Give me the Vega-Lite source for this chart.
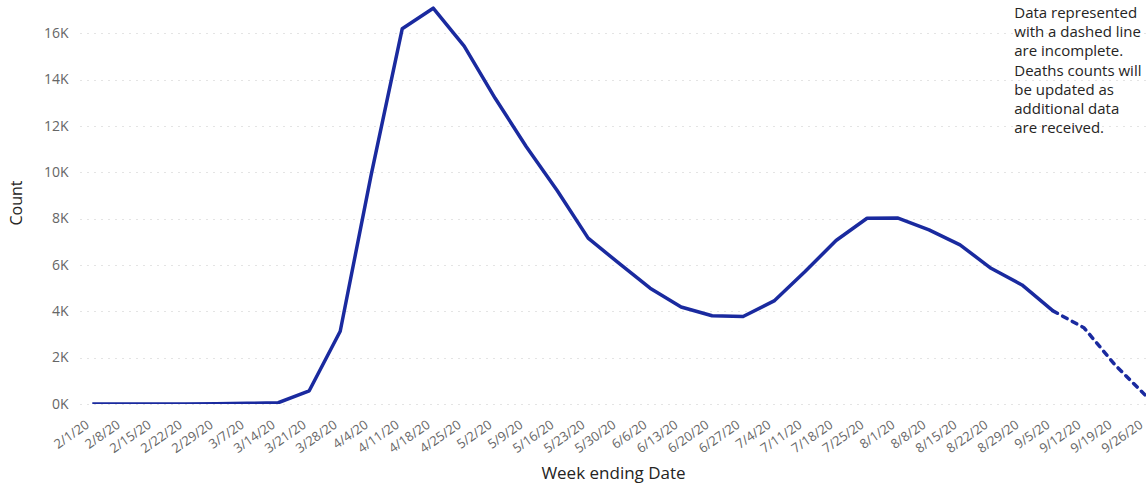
{
  "$schema": "https://vega.github.io/schema/vega-lite/v6.json",
  "width": 1066,
  "height": 403,
  "autosize": {"type": "none"},
  "padding": {"left": 80, "top": 1, "right": 0, "bottom": 81},
  "background": "white",
  "config": {
    "view": {"stroke": null},
    "font": "Open Sans",
    "axis": {"labelFont": "Open Sans", "titleFont": "Open Sans"}
  },
  "data": {
    "values": [
      {"date": "2020/02/01", "count": 0},
      {"date": "2020/02/08", "count": 0},
      {"date": "2020/02/15", "count": 2},
      {"date": "2020/02/22", "count": 5},
      {"date": "2020/02/29", "count": 8},
      {"date": "2020/03/07", "count": 30},
      {"date": "2020/03/14", "count": 55},
      {"date": "2020/03/21", "count": 570},
      {"date": "2020/03/28", "count": 3140},
      {"date": "2020/04/04", "count": 9900},
      {"date": "2020/04/11", "count": 16200},
      {"date": "2020/04/18", "count": 17090},
      {"date": "2020/04/25", "count": 15450},
      {"date": "2020/05/02", "count": 13200},
      {"date": "2020/05/09", "count": 11120},
      {"date": "2020/05/16", "count": 9220},
      {"date": "2020/05/23", "count": 7160},
      {"date": "2020/05/30", "count": 6070},
      {"date": "2020/06/06", "count": 5000},
      {"date": "2020/06/13", "count": 4190},
      {"date": "2020/06/20", "count": 3810},
      {"date": "2020/06/27", "count": 3780},
      {"date": "2020/07/04", "count": 4450},
      {"date": "2020/07/11", "count": 5720},
      {"date": "2020/07/18", "count": 7060},
      {"date": "2020/07/25", "count": 8020},
      {"date": "2020/08/01", "count": 8030},
      {"date": "2020/08/08", "count": 7520},
      {"date": "2020/08/15", "count": 6870},
      {"date": "2020/08/22", "count": 5860},
      {"date": "2020/08/29", "count": 5140},
      {"date": "2020/09/05", "count": 4020},
      {"date": "2020/09/12", "count": 3290},
      {"date": "2020/09/19", "count": 1690},
      {"date": "2020/09/26", "count": 350}
    ],
    "format": {"parse": {"date": "date"}}
  },
  "encoding": {
    "x": {
      "field": "date",
      "type": "temporal",
      "title": "Week ending Date",
      "scale": {
        "domain": [
          {"year": 2020, "month": 1, "date": 29, "hours": 5, "minutes": 20},
          {"year": 2020, "month": 9, "date": 26, "minutes": 10}
        ]
      },
      "axis": {
        "values": [
          {"year": 2020, "month": 2, "date": 1}, {"year": 2020, "month": 2, "date": 8},
          {"year": 2020, "month": 2, "date": 15}, {"year": 2020, "month": 2, "date": 22},
          {"year": 2020, "month": 2, "date": 29}, {"year": 2020, "month": 3, "date": 7},
          {"year": 2020, "month": 3, "date": 14}, {"year": 2020, "month": 3, "date": 21},
          {"year": 2020, "month": 3, "date": 28}, {"year": 2020, "month": 4, "date": 4},
          {"year": 2020, "month": 4, "date": 11}, {"year": 2020, "month": 4, "date": 18},
          {"year": 2020, "month": 4, "date": 25}, {"year": 2020, "month": 5, "date": 2},
          {"year": 2020, "month": 5, "date": 9}, {"year": 2020, "month": 5, "date": 16},
          {"year": 2020, "month": 5, "date": 23}, {"year": 2020, "month": 5, "date": 30},
          {"year": 2020, "month": 6, "date": 6}, {"year": 2020, "month": 6, "date": 13},
          {"year": 2020, "month": 6, "date": 20}, {"year": 2020, "month": 6, "date": 27},
          {"year": 2020, "month": 7, "date": 4}, {"year": 2020, "month": 7, "date": 11},
          {"year": 2020, "month": 7, "date": 18}, {"year": 2020, "month": 7, "date": 25},
          {"year": 2020, "month": 8, "date": 1}, {"year": 2020, "month": 8, "date": 8},
          {"year": 2020, "month": 8, "date": 15}, {"year": 2020, "month": 8, "date": 22},
          {"year": 2020, "month": 8, "date": 29}, {"year": 2020, "month": 9, "date": 5},
          {"year": 2020, "month": 9, "date": 12}, {"year": 2020, "month": 9, "date": 19},
          {"year": 2020, "month": 9, "date": 26}
        ],
        "format": "%-m/%-d/%y",
        "labelAngle": -35,
        "labelAlign": "right",
        "labelBaseline": "middle",
        "labelPadding": 19,
        "labelOffset": -5,
        "labelFontSize": 13,
        "labelColor": "#666666",
        "labelOverlap": false,
        "labelBound": false,
        "labelFlush": false,
        "ticks": false,
        "domain": false,
        "grid": false,
        "titleFontSize": 17,
        "titleFontWeight": "normal",
        "titleColor": "#252423",
        "titlePadding": 10
      }
    },
    "y": {
      "field": "count",
      "type": "quantitative",
      "title": "Count",
      "scale": {"domain": [0, 17400], "nice": false},
      "axis": {
        "values": [0, 2000, 4000, 6000, 8000, 10000, 12000, 14000, 16000],
        "labelExpr": "(datum.value / 1000) + 'K'",
        "labelFontSize": 14,
        "labelColor": "#666666",
        "labelPadding": 12,
        "ticks": false,
        "domain": false,
        "grid": true,
        "gridColor": "#c8c8c8",
        "gridDash": [1, 6],
        "gridWidth": 1,
        "titleFontSize": 16,
        "titleFontWeight": "normal",
        "titleColor": "#252423",
        "titlePadding": 19
      }
    }
  },
  "layer": [
    {
      "transform": [{"filter": "time(datum.date) <= time(datetime(2020, 8, 5))"}],
      "mark": {"type": "line", "color": "#1a2a9f", "strokeWidth": 3.5, "strokeJoin": "round", "clip": true}
    },
    {
      "transform": [{"filter": "time(datum.date) >= time(datetime(2020, 8, 5))"}],
      "mark": {"type": "line", "color": "#1a2a9f", "strokeWidth": 3.5, "strokeDash": [5, 6], "strokeCap": "round", "clip": true}
    },
    {
      "transform": [{"filter": "time(datum.date) == time(datetime(2020, 7, 29))"}],
      "mark": {
        "type": "text",
        "text": ["Data represented", "with a dashed line", "are incomplete.", "Deaths counts will", "be updated as", "additional data", "are received."],
        "align": "left",
        "baseline": "top",
        "fontSize": 15,
        "lineHeight": 19.2,
        "color": "#252423",
        "font": "Open Sans"
      },
      "encoding": {
        "x": {"datum": {"year": 2020, "month": 8, "date": 27, "hours": 6}, "type": "temporal"},
        "y": {"datum": 17180, "type": "quantitative"}
      }
    }
  ]
}
